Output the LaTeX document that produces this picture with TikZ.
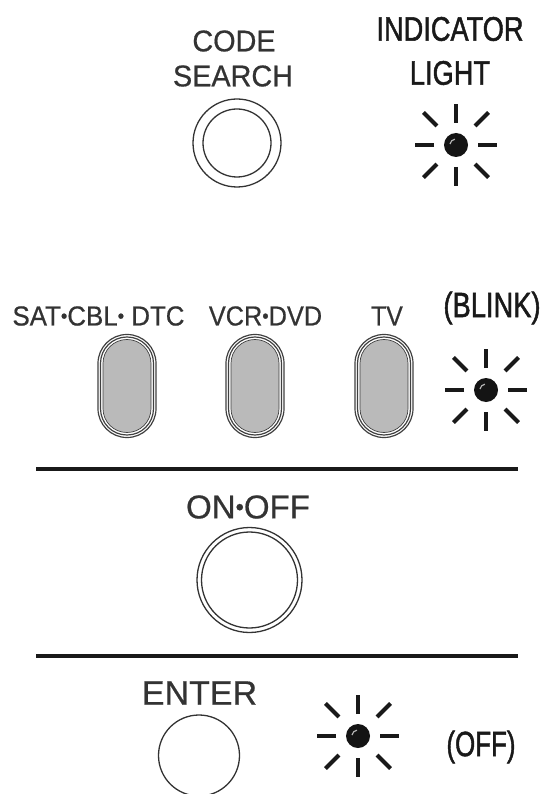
\documentclass[tikz,border=0pt]{standalone}
\usepackage{fontspec}
\setmainfont{Liberation Sans}
\newfontfamily\keyfont[FakeBold=0.6]{Liberation Sans}
\newfontfamily\headfont[FakeBold=1.6]{Liberation Sans}
\usepackage{tikz}

\newcommand{\keydot}{\raisebox{0.1em}{\scalebox{0.72}{•}}}

\tikzset{
  btnline/.style={draw=black!80, line width=1.3pt, inner sep=0pt, circle},
  pillline/.style={draw=black!75, line width=1.2pt, inner sep=0pt, rectangle},
  rule/.style={line width=4.5pt, black!90},
  ray/.style={line width=4pt, black!90},
  lightdot/.style={circle, fill=black!92, inner sep=0pt, minimum size=24pt},
  keylabel/.style={inner sep=0pt, text=black!80, transform shape},
  headlabel/.style={inner sep=0pt, text=black!90, transform shape},
}

\begin{document}
\begin{tikzpicture}[x=1pt, y=-1pt]
    \useasboundingbox (0, 0) rectangle (544, 794);

    \node [keylabel, xscale=0.96, font=\keyfont\fontsize{30}{30}\selectfont] (code) at (234, 41) {CODE};
    \node [keylabel, xscale=0.96, font=\keyfont\fontsize{30}{30}\selectfont] (search) at (233, 76) {SEARCH};
    \node [btnline, minimum size=88pt] (codeouter) at (237, 143) {};
    \node [btnline, minimum size=68pt] (codeinner) at (237, 143) {};

    \node [headlabel, xscale=0.8, font=\headfont\fontsize{34}{34}\selectfont] (indicator) at (450, 29) {INDICATOR};
    \node [headlabel, xscale=0.8, font=\headfont\fontsize{34}{34}\selectfont] (light) at (450, 73) {LIGHT};

    \node [keylabel, xscale=0.94, font=\keyfont\fontsize{27.5}{28}\selectfont] (sat) at (98.5, 316) {SAT\keydot CBL\keydot\ DTC};
    \node [keylabel, xscale=0.92, font=\keyfont\fontsize{27.5}{28}\selectfont] (vcr) at (265.5, 316) {VCR\keydot DVD};
    \node [keylabel, xscale=0.9, font=\keyfont\fontsize{27.5}{28}\selectfont] (tv) at (387, 316) {TV};
    \node [headlabel, xscale=0.78, font=\headfont\fontsize{35}{35}\selectfont] (blink) at (492, 308) {(BLINK)};

    \foreach \name/\x in {satkey/127, vcrkey/255, tvkey/384} {
      \node [pillline, minimum width=58pt, minimum height=103pt, rounded corners=28.9pt] (\name outer) at (\x, 386) {};
      \node [pillline, minimum width=53pt, minimum height=98pt, rounded corners=26.4pt] (\name mid) at (\x, 386) {};
      \node [pillline, fill=black!27, line width=0.7pt, minimum width=48pt, minimum height=93pt, rounded corners=23.9pt] (\name inner) at (\x, 386) {};
    }

    \foreach \name/\x/\y in {lighttop/456/145, lightblink/486/390, lightoff/358/736} {
      \node [lightdot] (\name) at (\x, \y) {};
      \draw [black!30, line width=1.2pt] (\name.center) ++(-6, -1) arc [start angle=190, end angle=260, radius=6];
      \foreach \a in {0, 90, 180, 270} {
        \draw [ray] (\name.center) ++(\a:22pt) -- ++(\a:19pt);
      }
      \foreach \a in {45, 135, 225, 315} {
        \draw [ray] (\name.center) ++(\a:27pt) -- ++(\a:19pt);
      }
    }

    \coordinate (ruleAw) at (36, 469);
    \coordinate (ruleAe) at (518, 469);
    \coordinate (ruleBw) at (36, 656);
    \coordinate (ruleBe) at (518, 656);
    \draw [rule] (ruleAw) -- (ruleAe);
    \draw [rule] (ruleBw) -- (ruleBe);

    \node [keylabel, font=\keyfont\fontsize{33}{33}\selectfont] (onoff) at (248, 507) {ON\keydot OFF};
    \node [btnline, minimum size=105pt] (onouter) at (249.5, 580) {};
    \node [btnline, minimum size=96pt] (oninner) at (249.5, 580) {};

    \node [keylabel, font=\keyfont\fontsize{34}{34}\selectfont] (enter) at (199.5, 693) {ENTER};
    \node [btnline, minimum size=81pt] (enterkey) at (199, 755.5) {};
    \node [headlabel, xscale=0.74, font=\headfont\fontsize{35}{35}\selectfont] (off) at (481, 747) {(OFF)};
  \end{tikzpicture}
\end{document}
